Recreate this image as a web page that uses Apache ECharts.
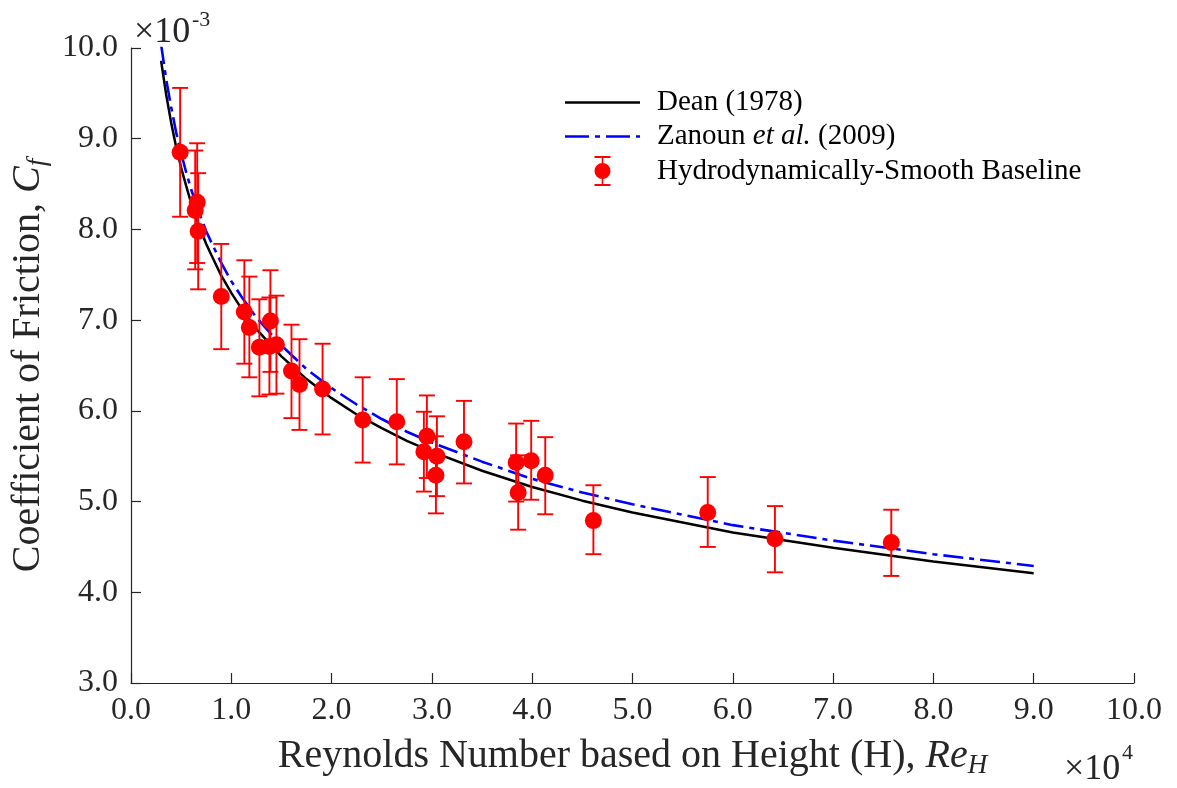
<!DOCTYPE html>
<html><head><meta charset="utf-8">
<script src="https://cdn.jsdelivr.net/npm/echarts@6/dist/echarts.min.js"></script>
<style>html,body{margin:0;padding:0;background:#fff}#c{width:1177px;height:788px}</style>
</head><body><div id="c"></div>
<script>
// Curves (Re_H in units of 1e4, Cf in units of 1e-3)
const curveRe   = [0.3, 0.35, 0.4, 0.45, 0.5, 0.55, 0.6, 0.65, 0.7, 0.75, 0.8, 0.9, 1.0, 1.1, 1.25, 1.5, 1.75, 2.0, 2.25, 2.5, 2.75, 3.0, 3.5, 4.0, 4.5, 5.0, 6.0, 7.0, 8.0, 9.0];
const deanCf    = [9.86, 9.49, 9.18, 8.91, 8.68, 8.48, 8.29, 8.13, 7.98, 7.84, 7.72, 7.49, 7.30, 7.13, 6.90, 6.60, 6.35, 6.14, 5.96, 5.81, 5.67, 5.55, 5.34, 5.16, 5.01, 4.88, 4.66, 4.49, 4.34, 4.21];
const zanounCf  = [10.04, 9.66, 9.35, 9.07, 8.84, 8.63, 8.44, 8.28, 8.12, 7.98, 7.86, 7.63, 7.43, 7.26, 7.03, 6.72, 6.46, 6.25, 6.07, 5.91, 5.77, 5.65, 5.44, 5.25, 5.10, 4.97, 4.74, 4.57, 4.42, 4.29];

// Experimental points with error bar limits
const expRe = [0.49, 0.66, 0.64, 0.67, 0.90, 1.13, 1.18, 1.39, 1.28, 1.38, 1.45, 1.60, 1.68, 1.91, 2.31, 2.65, 2.95, 2.92, 3.05, 3.04, 3.32, 3.84, 3.86, 3.99, 4.13, 4.61, 5.75, 6.42, 7.58];
const expCf = [8.85, 8.30, 8.21, 7.98, 7.26, 7.09, 6.92, 6.99, 6.70, 6.71, 6.73, 6.44, 6.29, 6.24, 5.90, 5.88, 5.72, 5.55, 5.50, 5.29, 5.66, 5.43, 5.10, 5.45, 5.29, 4.79, 4.88, 4.59, 4.55];
const expLo = [8.14, 7.63, 7.56, 7.34, 6.68, 6.52, 6.37, 6.43, 6.16, 6.18, 6.19, 5.92, 5.79, 5.74, 5.43, 5.41, 5.26, 5.11, 5.06, 4.87, 5.20, 5.00, 4.69, 5.02, 4.86, 4.42, 4.50, 4.22, 4.18];
const expHi = [9.56, 8.95, 8.87, 8.62, 7.84, 7.66, 7.48, 7.55, 7.23, 7.25, 7.27, 6.95, 6.79, 6.74, 6.37, 6.35, 6.17, 5.99, 5.94, 5.72, 6.11, 5.86, 5.51, 5.89, 5.71, 5.18, 5.27, 4.95, 4.91];

const xMin = 0, xMax = 10, xStep = 1;
const yMin = 3, yMax = 10, yStep = 1;

const FONT = 'Liberation Serif';
const TXT = '#262626';

const dean = curveRe.map((x, i) => [x, deanCf[i]]);
const zanoun = curveRe.map((x, i) => [x, zanounCf[i]]);
const pts = expRe.map((x, i) => [x, expCf[i]]);
const bars = expRe.map((x, i) => [x, expLo[i], expHi[i]]);

const errIcon = 'path://M0,0h16v2h-16z M7.2,0h1.6v30h-1.6z M0,28h16v2h-16z M0,15a8,8 0 1,1 16,0a8,8 0 1,1 -16,0z';
const solidIcon = 'path://M0,0h75v2.4h-75z';
const dashDotIcon = 'path://M0,0h24v2.5h-24z M30,0h5v2.5h-5z M41,0h24v2.5h-24z M71,0h4v2.5h-4z';

const chart = echarts.init(document.getElementById('c'), null, {renderer: 'canvas'});
chart.setOption({
  animation: false,
  backgroundColor: '#fff',
  grid: {left: 130, right: 43, top: 48, bottom: 105},
  xAxis: {
    type: 'value', min: xMin, max: xMax, interval: xStep,
    axisLine: {show: true, lineStyle: {color: TXT, width: 1.2}},
    axisTick: {show: true, inside: true, length: 10, lineStyle: {color: TXT, width: 1.2}},
    splitLine: {show: false},
    axisLabel: {formatter: v => v.toFixed(1), fontFamily: FONT, fontSize: 32, color: TXT, margin: 12},
    name: '{n|Reynolds Number based on Height (H), }{i|Re}{s|H}',
    nameLocation: 'middle', nameGap: 50,
    nameTextStyle: {
      color: TXT, fontFamily: FONT, fontSize: 40,
      rich: {
        n: {fontFamily: FONT, fontSize: 40, color: TXT},
        i: {fontFamily: FONT, fontSize: 40, fontStyle: 'italic', color: TXT},
        s: {fontFamily: FONT, fontSize: 27, fontStyle: 'italic', color: TXT, padding: [19, 0, 0, 0]}
      }
    }
  },
  yAxis: {
    type: 'value', min: yMin, max: yMax, interval: yStep,
    axisLine: {show: true, lineStyle: {color: TXT, width: 1.2}},
    axisTick: {show: true, inside: true, length: 10, lineStyle: {color: TXT, width: 1.2}},
    splitLine: {show: false},
    axisLabel: {formatter: v => v.toFixed(1), fontFamily: FONT, fontSize: 32, color: TXT, margin: 13},
    name: '{n|Coefficient of Friction, }{i|C}{s|f}',
    nameLocation: 'middle', nameGap: 80, nameRotate: 90,
    nameTextStyle: {
      color: TXT, fontFamily: FONT, fontSize: 40,
      rich: {
        n: {fontFamily: FONT, fontSize: 40, color: TXT},
        i: {fontFamily: FONT, fontSize: 40, fontStyle: 'italic', color: TXT},
        s: {fontFamily: FONT, fontSize: 27, fontStyle: 'italic', color: TXT, padding: [19, 0, 0, 0]}
      }
    }
  },
  legend: {
    orient: 'vertical', left: 560, top: 83,
    itemWidth: 75, itemHeight: 30, itemGap: 5,
    textStyle: {fontFamily: FONT, fontSize: 29, color: '#000', padding: [0, 0, 0, 12],
      rich: {
        n: {fontFamily: FONT, fontSize: 29, color: '#000'},
        i: {fontFamily: FONT, fontSize: 29, fontStyle: 'italic', color: '#000'}
      }
    },
    formatter: name => name === 'Zanoun et al. (2009)' ? '{n|Zanoun }{i|et al.}{n| (2009)}' : name,
    data: [
      {name: 'Dean (1978)', icon: solidIcon, itemStyle: {color: '#000'}},
      {name: 'Zanoun et al. (2009)', icon: dashDotIcon, itemStyle: {color: '#0000ff'}},
      {name: 'Hydrodynamically-Smooth Baseline', icon: errIcon, itemStyle: {color: '#ff0000'}}
    ]
  },
  series: [
    {
      name: 'Dean (1978)', type: 'line', data: dean, showSymbol: false, symbol: 'none',
      lineStyle: {color: '#000', width: 2.5}, itemStyle: {color: '#000'}, z: 2
    },
    {
      name: 'Zanoun et al. (2009)', type: 'line', data: zanoun, showSymbol: false, symbol: 'none',
      lineStyle: {color: '#0000ff', width: 2.6, type: [20, 6, 5, 6]}, itemStyle: {color: '#0000ff'}, z: 3
    },
    {
      name: 'errorbars', type: 'custom', data: bars, z: 4,
      encode: {x: 0, y: [1, 2]},
      renderItem: function (params, api) {
        const x = api.value(0);
        const lo = api.coord([x, api.value(1)]);
        const hi = api.coord([x, api.value(2)]);
        const hw = 8;
        const st = {stroke: '#ff0000', lineWidth: 1.9};
        return {
          type: 'group',
          children: [
            {type: 'line', shape: {x1: lo[0], y1: lo[1], x2: hi[0], y2: hi[1]}, style: st},
            {type: 'line', shape: {x1: lo[0] - hw, y1: lo[1], x2: lo[0] + hw, y2: lo[1]}, style: st},
            {type: 'line', shape: {x1: hi[0] - hw, y1: hi[1], x2: hi[0] + hw, y2: hi[1]}, style: st}
          ]
        };
      }
    },
    {
      name: 'Hydrodynamically-Smooth Baseline', type: 'scatter', data: pts,
      symbol: 'circle', symbolSize: 17, itemStyle: {color: '#ff0000', opacity: 1}, z: 5
    }
  ],
  graphic: [
    {type: 'text', left: 134, top: 15, style: {text: '×10', fontFamily: FONT, fontSize: 36, fill: TXT}},
    {type: 'text', left: 192, top: 9, style: {text: '-3', fontFamily: FONT, fontSize: 22, fill: TXT}},
    {type: 'text', left: 1064, top: 752, style: {text: '×10', fontFamily: FONT, fontSize: 36, fill: TXT}},
    {type: 'text', left: 1122, top: 742, style: {text: '4', fontFamily: FONT, fontSize: 22, fill: TXT}}
  ]
});
</script>
</body></html>
